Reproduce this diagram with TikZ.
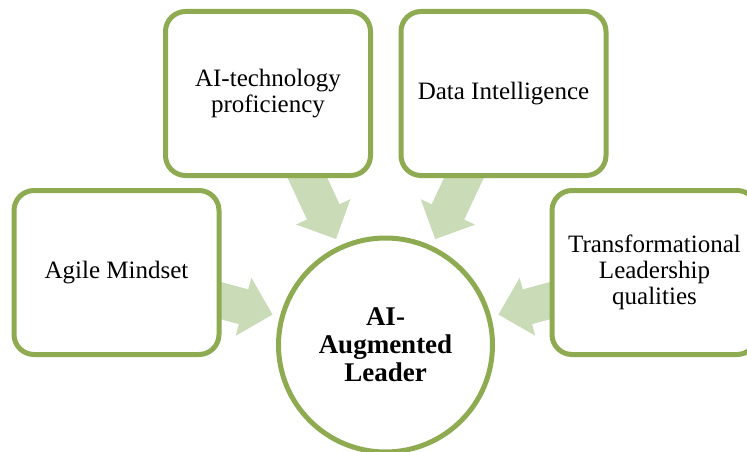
\documentclass[tikz,border=0pt]{standalone}
\usepackage{fontspec}
\setmainfont{Liberation Serif}
\usetikzlibrary{calc,backgrounds}

\definecolor{leafgreen}{HTML}{8EAB51}
\definecolor{palegreen}{HTML}{CADBB7}

\tikzset{
  box/.style={draw=leafgreen, line width=5pt, rounded corners=20pt, fill=white,
    minimum width=205pt, minimum height=164pt, align=center,
    font=\fontsize{25}{26}\selectfont},
  hub/.style={circle, draw=leafgreen, line width=5pt, fill=white,
    minimum size=214pt, align=center, font=\fontsize{27}{28}\selectfont\bfseries},
  fatarrow/.style={fill=palegreen}
}

\begin{document}
\begin{tikzpicture}[x=1pt, y=-1pt]

  \clip (0,0) rectangle (747,452);

  % Boxes
  \node[box] (agile) at (116.5,272.5) {Agile Mindset};
  \node[box] (tech) at (268,93.5) {AI-technology\\proficiency};
  \node[box] (data) at (503.5,93.5) {Data Intelligence};
  \node[box] (lead) at (654.5,272.5) {Transformational\\Leadership\\qualities};

  % Centre
  \node[hub] (hub) at (385.5,345) {AI-\\Augmented\\Leader};

  % Arrows, behind the boxes
  \begin{scope}[on background layer]
  \foreach \src in {agile,tech,data,lead}{
    \coordinate (tip) at ($(hub.center)!117pt!(\src.center)$);
    \coordinate (base) at ($(tip)!30pt!(\src.center)$);
    \fill[fatarrow] ($(\src.center)!18pt!90:(tip)$) -- ($(base)!18pt!90:(tip)$)
      -- ($(base)!30pt!90:(tip)$) -- (tip) -- ($(base)!30pt!-90:(tip)$)
      -- ($(base)!18pt!-90:(tip)$) -- ($(\src.center)!18pt!-90:(tip)$) -- cycle;
  }
  \end{scope}

\end{tikzpicture}
\end{document}
